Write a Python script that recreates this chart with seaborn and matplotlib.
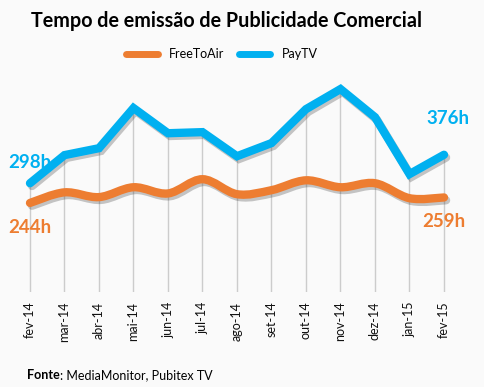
import numpy as np
import pandas as pd
import matplotlib.pyplot as plt
import seaborn as sns
from matplotlib.path import Path
from matplotlib.patches import PathPatch
from matplotlib.lines import Line2D
import matplotlib.patheffects as pe

meses = ['fev-14', 'mar-14', 'abr-14', 'mai-14', 'jun-14', 'jul-14', 'ago-14',
         'set-14', 'out-14', 'nov-14', 'dez-14', 'jan-15', 'fev-15']
free_to_air = [244, 273, 260, 287, 270, 309, 268, 279, 306, 287, 298, 257, 259]
pay_tv = [298, 375, 394, 504, 435, 438, 372, 408, 501, 556, 479, 323, 376]

azul = '#00B0F0'
laranja = '#ED7D31'
fundo = '#FAFAFA'

sns.set_style('white')
plt.rcParams['font.family'] = ['Lato', 'DejaVu Sans']
plt.rcParams['text.color'] = 'black'

df = pd.DataFrame({'mes': meses, 'pos': np.arange(len(meses)),
                   'FreeToAir': free_to_air, 'PayTV': pay_tv})

fig = plt.figure(figsize=(4.85, 3.87), dpi=100, facecolor=fundo)
ax = fig.add_axes([0, 95 / 387, 1, 219 / 387])
ax.set_facecolor(fundo)

# linhas de queda (drop lines) do ponto mais alto ate o eixo
topo = np.maximum(df['PayTV'], df['FreeToAir'])
ax.vlines(df['pos'], 0, topo, color='#cccccc', lw=1, zorder=1)

sombra = [pe.SimpleLineShadow(offset=(1.5, -2), shadow_color='#444444', alpha=0.3),
          pe.Normal()]

# PayTV - linha reta
sns.lineplot(data=df, x='pos', y='PayTV', ax=ax, color=azul, lw=6,
             solid_capstyle='round', solid_joinstyle='miter', zorder=3,
             path_effects=sombra)

# FreeToAir - linha suavizada (Catmull-Rom -> Bezier)
px = df['pos'].to_numpy(float)
py = df['FreeToAir'].to_numpy(float)
n = len(px)
verts = [(px[0], py[0])]
codes = [Path.MOVETO]
for i in range(n - 1):
    i0, i3 = max(i - 1, 0), min(i + 2, n - 1)
    c1 = (px[i] + (px[i + 1] - px[i0]) / 6, py[i] + (py[i + 1] - py[i0]) / 6)
    c2 = (px[i + 1] - (px[i3] - px[i]) / 6, py[i + 1] - (py[i3] - py[i]) / 6)
    verts += [c1, c2, (px[i + 1], py[i + 1])]
    codes += [Path.CURVE4] * 3
curva = PathPatch(Path(verts, codes), fill=False, edgecolor=laranja, lw=6,
                  capstyle='round', zorder=2, path_effects=sombra)
ax.add_patch(curva)

ax.set_xlim(-30 / 34.5, 12 + 41 / 34.5)
ax.set_ylim(0, 600)
ax.set_xticks(df['pos'], labels=meses, rotation=90, fontsize=9, color='#111111')
ax.tick_params(axis='x', length=0, pad=7)
ax.set_yticks([])
ax.set_xlabel('')
ax.set_ylabel('')
sns.despine(ax=ax, left=True, bottom=True)

# rotulos inicial e final
rot = dict(fontsize=13.5, fontweight='bold', ha='center', va='center')
ax.text(0, 356, f'{pay_tv[0]}h', color=azul, **rot)
ax.text(0, 177, f'{free_to_air[0]}h', color=laranja, **rot)
ax.text(12.1, 474, f'{pay_tv[-1]}h', color=azul, **rot)
ax.text(12, 193, f'{free_to_air[-1]}h', color=laranja, **rot)

fig.text(31 / 485, 1 - 21 / 387, 'Tempo de emissão de Publicidade Comercial',
         fontsize=14.2, fontweight='bold', ha='left', va='center', color='black')

handles = [Line2D([], [], color=laranja, lw=5, solid_capstyle='round'),
           Line2D([], [], color=azul, lw=5, solid_capstyle='round')]
fig.legend(handles, ['FreeToAir', 'PayTV'], loc='center', ncol=2,
           bbox_to_anchor=(222 / 485, 1 - 54 / 387), frameon=False, fontsize=9,
           handlelength=2.5, handletextpad=0.9, columnspacing=1.2)

fonte = fig.text(27 / 485, 1 - 375 / 387, 'Fonte', fontsize=9,
                 fontweight='bold', ha='left', va='center')
fig.text(0, 0, ': MediaMonitor, Pubitex TV', fontsize=9, ha='left', va='center',
         transform=fonte.get_transform())
fig.canvas.draw()
bb = fonte.get_window_extent().transformed(fig.transFigure.inverted())
fig.texts[-1].set_position((bb.x1, 1 - 375 / 387))

fig.savefig('out.png', dpi=100, facecolor=fundo)
